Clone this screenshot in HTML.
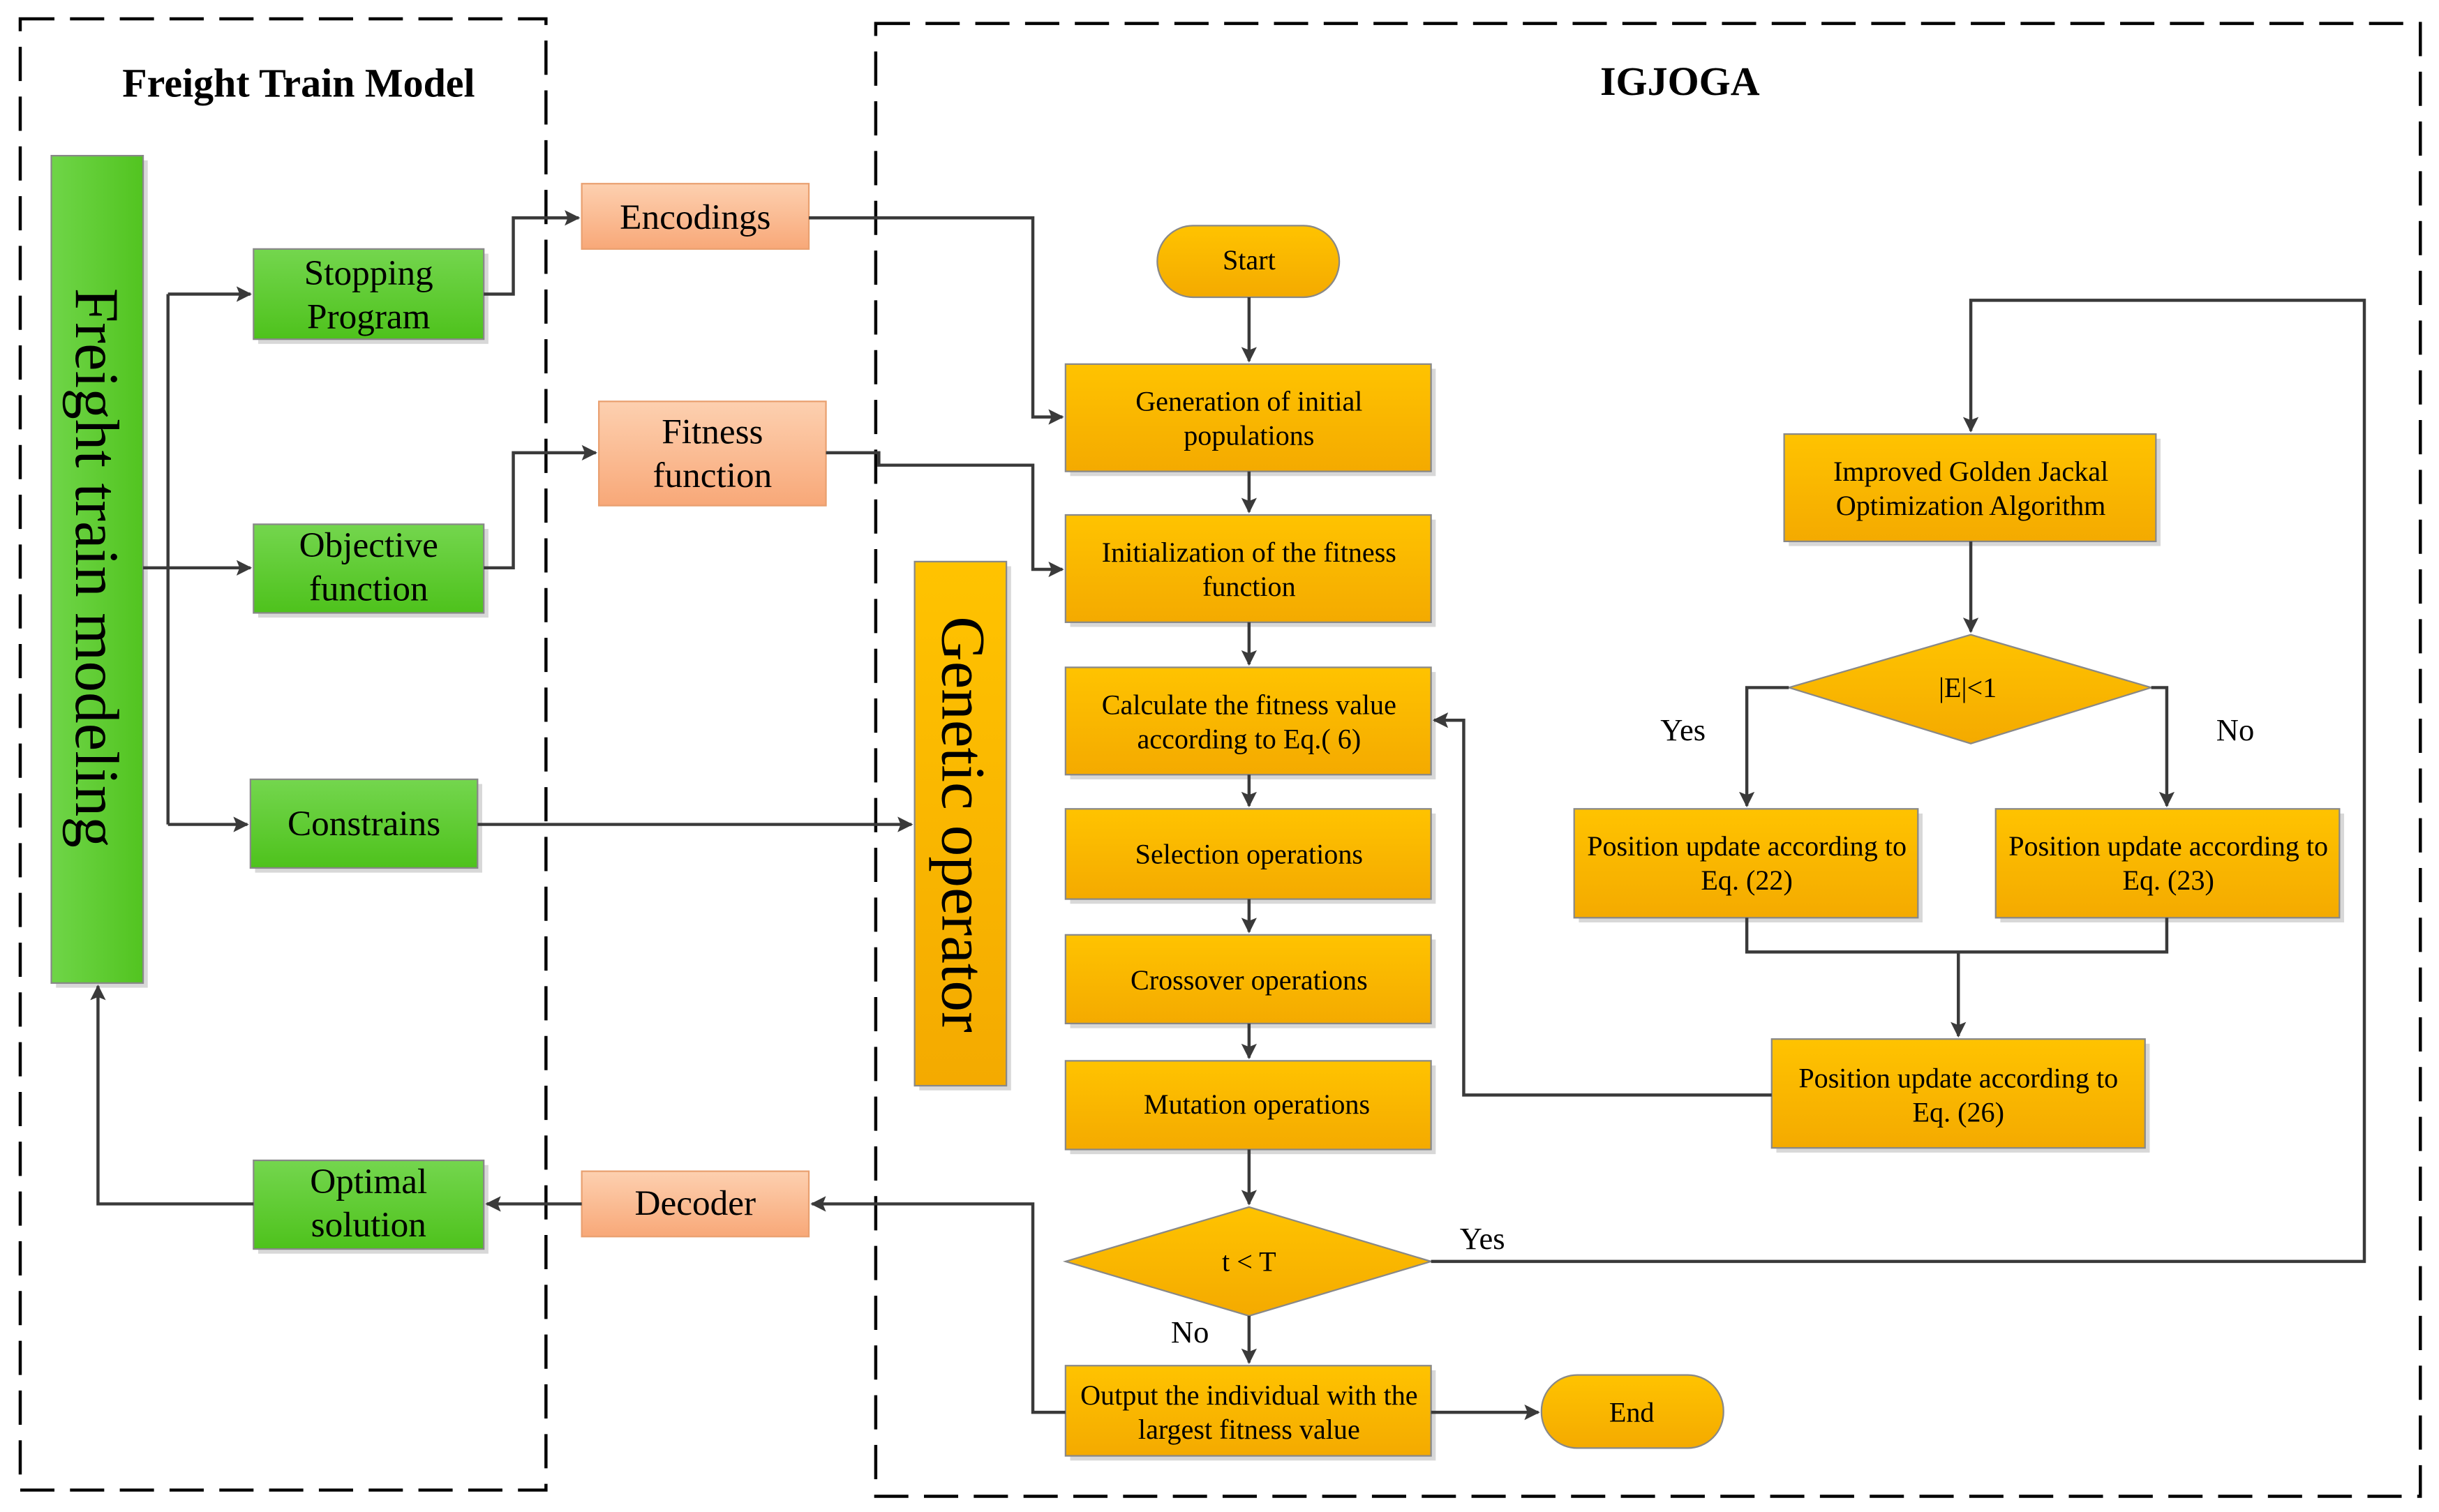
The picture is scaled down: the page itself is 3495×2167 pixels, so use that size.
<!DOCTYPE html>
<html><head><meta charset="utf-8"><style>
html,body{margin:0;padding:0;background:#fff;}
svg{display:block;}
text{font-family:"Liberation Serif",serif;fill:#000;}
</style></head><body>
<svg width="3495" height="2167" viewBox="0 0 1568 972" xmlns="http://www.w3.org/2000/svg">
<defs>
<linearGradient id="g" x1="0" y1="0" x2="0" y2="1"><stop offset="0" stop-color="#74d64e"/><stop offset="1" stop-color="#4ec21c"/></linearGradient>
<linearGradient id="gv" x1="0" y1="0" x2="1" y2="0"><stop offset="0" stop-color="#6fd548"/><stop offset="1" stop-color="#52c420"/></linearGradient>
<linearGradient id="o" x1="0" y1="0" x2="0" y2="1"><stop offset="0" stop-color="#ffc300"/><stop offset="1" stop-color="#f4aa00"/></linearGradient>
<linearGradient id="p" x1="0" y1="0" x2="0" y2="1"><stop offset="0" stop-color="#fdd0b0"/><stop offset="1" stop-color="#f8a878"/></linearGradient>
<marker id="a" markerWidth="10" markerHeight="10" refX="9" refY="5" orient="auto" markerUnits="userSpaceOnUse"><path d="M0,0 L10,5 L0,10 L2,5 z" fill="#3a3a3a"/></marker>
</defs>
<rect x="13" y="12" width="338" height="946" fill="none" stroke="#000" stroke-width="2" stroke-dasharray="22,10"/>
<rect x="563" y="15" width="993" height="947" fill="none" stroke="#000" stroke-width="2" stroke-dasharray="22,10"/>
<text x="192" y="62" font-size="26" font-weight="bold" text-anchor="middle">Freight Train Model</text>
<text x="1080" y="61" font-size="26" font-weight="bold" text-anchor="middle">IGJOGA</text>

<g stroke="#888" stroke-width="1">
<g fill="#d8d8d8" stroke="none">
<rect x="36" y="103" width="59" height="532"/>
<rect x="166" y="163" width="148" height="58"/><rect x="166" y="340" width="148" height="57"/>
<rect x="164" y="504" width="146" height="57"/><rect x="166" y="749" width="148" height="57"/>
<rect x="591" y="364" width="59" height="337"/>
<rect x="688" y="237" width="235" height="69"/><rect x="688" y="334" width="235" height="69"/>
<rect x="688" y="432" width="235" height="69"/><rect x="688" y="523" width="235" height="58"/>
<rect x="688" y="604" width="235" height="57"/><rect x="688" y="685" width="235" height="57"/>
<rect x="688" y="881" width="235" height="58"/>
<rect x="1150" y="282" width="239" height="69"/><rect x="1015" y="523" width="221" height="70"/>
<rect x="1286" y="523" width="221" height="70"/><rect x="1142" y="671" width="240" height="70"/>
</g>
<rect x="33" y="100" width="59" height="532" fill="url(#gv)"/>
<rect x="163" y="160" width="148" height="58" fill="url(#g)"/>
<rect x="163" y="337" width="148" height="57" fill="url(#g)"/>
<rect x="161" y="501" width="146" height="57" fill="url(#g)"/>
<rect x="163" y="746" width="148" height="57" fill="url(#g)"/>
<rect x="374" y="118" width="146" height="42" fill="url(#p)" stroke="#e9a070"/>
<rect x="385" y="258" width="146" height="67" fill="url(#p)" stroke="#e9a070"/>
<rect x="374" y="753" width="146" height="42" fill="url(#p)" stroke="#e9a070"/>
<rect x="588" y="361" width="59" height="337" fill="url(#o)"/>
<rect x="685" y="234" width="235" height="69" fill="url(#o)"/>
<rect x="685" y="331" width="235" height="69" fill="url(#o)"/>
<rect x="685" y="429" width="235" height="69" fill="url(#o)"/>
<rect x="685" y="520" width="235" height="58" fill="url(#o)"/>
<rect x="685" y="601" width="235" height="57" fill="url(#o)"/>
<rect x="685" y="682" width="235" height="57" fill="url(#o)"/>
<rect x="685" y="878" width="235" height="58" fill="url(#o)"/>
<rect x="744" y="145" width="117" height="46" rx="23" fill="url(#o)"/>
<rect x="991" y="884" width="117" height="47" rx="23" fill="url(#o)"/>
<polygon points="685,811 803,776 920,811 803,846" fill="url(#o)"/>
<rect x="1147" y="279" width="239" height="69" fill="url(#o)"/>
<polygon points="1150,442 1267,408 1383,442 1267,478" fill="url(#o)"/>
<rect x="1012" y="520" width="221" height="70" fill="url(#o)"/>
<rect x="1283" y="520" width="221" height="70" fill="url(#o)"/>
<rect x="1139" y="668" width="240" height="70" fill="url(#o)"/>
</g>

<g fill="none" stroke="#3a3a3a" stroke-width="2">
<path d="M92,365 H161" marker-end="url(#a)"/>
<path d="M108,189 V530"/>
<path d="M108,189 H161" marker-end="url(#a)"/>
<path d="M108,530 H159" marker-end="url(#a)"/>
<path d="M311,189 H330 V140 H372" marker-end="url(#a)"/>
<path d="M311,365 H330 V291 H383" marker-end="url(#a)"/>
<path d="M520,140 H664 V268 H683" marker-end="url(#a)"/>
<path d="M531,291 H565 V299 H664 V366 H683" marker-end="url(#a)"/>
<path d="M307,530 H586" marker-end="url(#a)"/>
<path d="M163,774 H63 V634" marker-end="url(#a)"/>
<path d="M374,774 H313" marker-end="url(#a)"/>
<path d="M685,908 H664 V774 H522" marker-end="url(#a)"/>
<path d="M920,908 H989" marker-end="url(#a)"/>
<path d="M803,191 V232" marker-end="url(#a)"/>
<path d="M803,303 V329" marker-end="url(#a)"/>
<path d="M803,400 V427" marker-end="url(#a)"/>
<path d="M803,498 V518" marker-end="url(#a)"/>
<path d="M803,578 V599" marker-end="url(#a)"/>
<path d="M803,658 V680" marker-end="url(#a)"/>
<path d="M803,739 V774" marker-end="url(#a)"/>
<path d="M803,846 V876" marker-end="url(#a)"/>
<path d="M920,811 H1520 V193 H1267 V277" marker-end="url(#a)"/>
<path d="M1267,348 V406" marker-end="url(#a)"/>
<path d="M1150,442 H1123 V518" marker-end="url(#a)"/>
<path d="M1383,442 H1393 V518" marker-end="url(#a)"/>
<path d="M1123,590 V612 H1393 V590"/>
<path d="M1259,612 V666" marker-end="url(#a)"/>
<path d="M1139,704 H941 V463 H922" marker-end="url(#a)"/>
</g>

<g text-anchor="middle">
<text transform="translate(49,365) rotate(90)" font-size="40">Freight train modeling</text>
<text transform="translate(606,530) rotate(90)" font-size="40">Genetic operator</text>
<g font-size="23">
<text x="237" y="183">Stopping</text><text x="237" y="211">Program</text>
<text x="237" y="358">Objective</text><text x="237" y="386">function</text>
<text x="234" y="537">Constrains</text>
<text x="237" y="767">Optimal</text><text x="237" y="795">solution</text>
<text x="447" y="147">Encodings</text>
<text x="458" y="285">Fitness</text><text x="458" y="313">function</text>
<text x="447" y="781">Decoder</text>
</g>
<g font-size="18">
<text x="803" y="173">Start</text>
<text x="1049" y="914">End</text>
<text x="803" y="264">Generation of initial</text><text x="803" y="286">populations</text>
<text x="803" y="361">Initialization of the fitness</text><text x="803" y="383">function</text>
<text x="803" y="459">Calculate the fitness value</text><text x="803" y="481">according to Eq.( 6)</text>
<text x="803" y="555">Selection operations</text>
<text x="803" y="636">Crossover operations</text>
<text x="808" y="716">Mutation operations</text>
<text x="803" y="817">t &lt; T</text>
<text x="803" y="903">Output the individual with the</text><text x="803" y="925">largest fitness value</text>
<text x="1267" y="309">Improved Golden Jackal</text><text x="1267" y="331">Optimization Algorithm</text>
<text x="1265" y="448">|E|&lt;1</text>
<text x="1123" y="550">Position update according to</text><text x="1123" y="572">Eq. (22)</text>
<text x="1394" y="550">Position update according to</text><text x="1394" y="572">Eq. (23)</text>
<text x="1259" y="699">Position update according to</text><text x="1259" y="721">Eq. (26)</text>
</g>
<g font-size="20">
<text x="953" y="803">Yes</text>
<text x="765" y="863">No</text>
<text x="1082" y="476">Yes</text>
<text x="1437" y="476">No</text>
</g>
</g>
</svg>
</body></html>
